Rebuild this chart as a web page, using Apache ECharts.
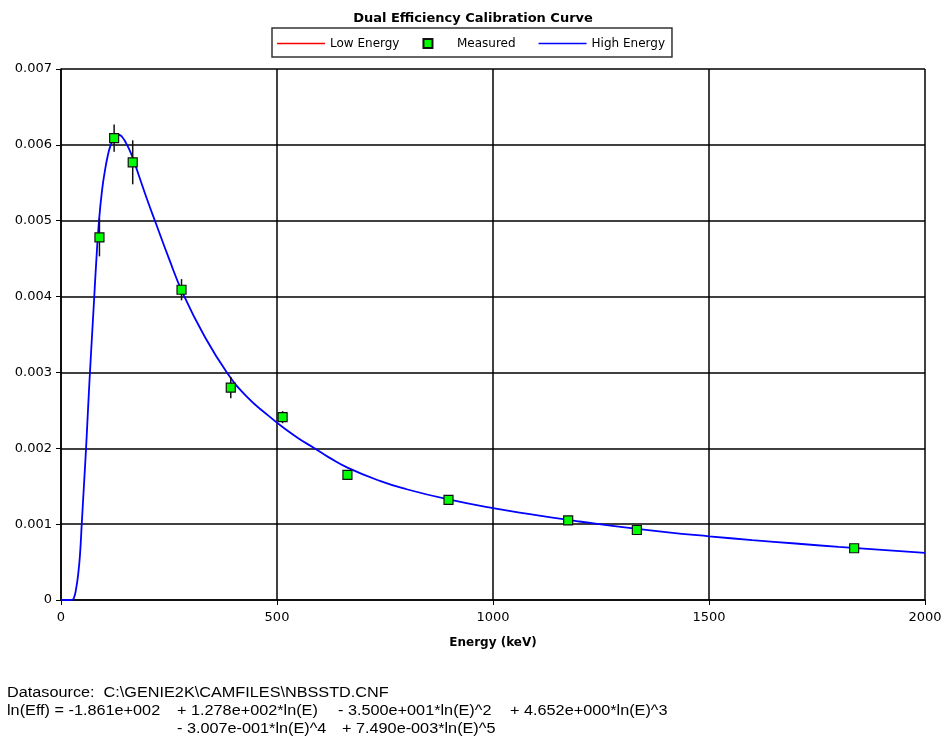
<!DOCTYPE html>
<html>
<head>
<meta charset="utf-8">
<script src="https://cdn.jsdelivr.net/npm/echarts@6/dist/echarts.min.js"></script>
<style>
html,body{margin:0;padding:0;background:#fff;}
#chart{width:946px;height:740px;}
</style>
</head>
<body>
<div id="chart"></div>
<script>
// Measured calibration points (keV, efficiency, 1-sigma error)
var measuredEnergy = [89, 123, 166, 279, 393, 513, 663, 897, 1174, 1333, 1836];
var measuredEff = [0.00478, 0.00609, 0.00577, 0.00409, 0.00280, 0.00241, 0.00165, 0.00132, 0.00105, 0.000923, 0.000682];
var measuredErr = [0.00025, 0.00018, 0.00029, 0.00014, 0.00014, 0.00008, 0.00006, 0.00004, 0.00003, 0.00003, 0.00002];

// High-energy fitted curve
var curveEnergy = [0, 25, 30, 35, 40, 44, 48, 53, 58, 62, 67, 72, 77, 82, 88, 95, 102, 108, 114, 121, 128, 135, 142, 150, 158, 166, 180, 200, 220, 250, 280, 330, 384, 430, 480, 513, 550, 584, 620, 663, 738, 800, 897, 1000, 1100, 1175, 1200, 1300, 1400, 1500, 1600, 1700, 1800, 1900, 2000];
var curveEff = [0, 0, 0.00003, 0.00015, 0.00035, 0.0006, 0.0010, 0.0015, 0.0020, 0.00245, 0.0030, 0.0035, 0.0040, 0.0045, 0.0050, 0.0054, 0.00567, 0.00585, 0.00598, 0.00607, 0.00612, 0.00613, 0.0061, 0.00603, 0.00594, 0.00583, 0.0056, 0.00527, 0.00496, 0.0045, 0.00407, 0.0035, 0.0030, 0.00268, 0.00243, 0.00228, 0.00213, 0.00201, 0.00188, 0.001745, 0.00157, 0.00146, 0.001325, 0.00121, 0.00112, 0.001055, 0.001035, 0.00096, 0.000895, 0.00084, 0.00079, 0.000745, 0.0007, 0.00066, 0.00062];

// Low-energy curve: no visible points in the picture
var lowEnergyCurve = [];

var xTicks = {min: 0, max: 2000, interval: 500};
var yTicks = {min: 0, max: 0.007, interval: 0.001};

var titleText = 'Dual Efficiency Calibration Curve';
var footerLines = [
  {x: 7, y: 693, text: 'Datasource:  C:\\GENIE2K\\CAMFILES\\NBSSTD.CNF'},
  {x: 7, y: 711, text: 'ln(Eff) = -1.861e+002'},
  {x: 177, y: 711, text: '+ 1.278e+002*ln(E)'},
  {x: 338, y: 711, text: '- 3.500e+001*ln(E)^2'},
  {x: 510, y: 711, text: '+ 4.652e+000*ln(E)^3'},
  {x: 177, y: 729, text: '- 3.007e-001*ln(E)^4'},
  {x: 342, y: 729, text: '+ 7.490e-003*ln(E)^5'}
];

var FONT = '"DejaVu Sans", "Liberation Sans", Arial, sans-serif';
var FOOTFONT = '"Liberation Sans", Arial, sans-serif';

var curveData = curveEnergy.map(function (e, i) { return [e, curveEff[i]]; });
var measuredData = measuredEnergy.map(function (e, i) { return [e, measuredEff[i]]; });
var errData = measuredEnergy.map(function (e, i) { return [e, measuredEff[i], measuredErr[i]]; });

var chart = echarts.init(document.getElementById('chart'), null, {renderer: 'canvas'});

var LINE_ICON = 'path://M0,0L48,0L48,1.6L0,1.6Z';

var option = {
  animation: false,
  backgroundColor: '#ffffff',
  title: {
    text: titleText,
    left: 'center',
    top: 7,
    textStyle: {fontFamily: FONT, fontSize: 13, fontWeight: 'bold', color: '#000'}
  },
  legend: {
    data: [
      {name: 'Low Energy', icon: LINE_ICON},
      {name: 'Measured', icon: 'path://M0,0L10,0L10,10L0,10Z'},
      {name: 'High Energy', icon: LINE_ICON}
    ],
    left: 272,
    top: 28,
    itemWidth: 48,
    itemHeight: 9,
    itemGap: 23,
    padding: [9, 7, 7, 5],
    borderColor: '#333',
    borderWidth: 1.5,
    borderRadius: 0,
    symbolKeepAspect: true,
    textStyle: {fontFamily: FONT, fontSize: 12, color: '#000', lineHeight: 13}
  },
  grid: {left: 61, top: 69, width: 864, height: 531, containLabel: false},
  xAxis: {
    type: 'value',
    min: xTicks.min, max: xTicks.max, interval: xTicks.interval,
    name: 'Energy (keV)',
    nameLocation: 'middle',
    nameGap: 37,
    nameTextStyle: {fontFamily: FONT, fontSize: 12, fontWeight: 'bold', color: '#000'},
    axisLine: {show: true, onZero: false, lineStyle: {color: '#000', width: 1.5}},
    axisTick: {show: true, length: 5, lineStyle: {color: '#000', width: 1}},
    splitLine: {show: true, lineStyle: {color: '#000', width: 1.5}},
    axisLabel: {
      fontFamily: FONT, fontSize: 13, color: '#000', margin: 11,
      formatter: function (v) { return String(v); }
    }
  },
  yAxis: {
    type: 'value',
    min: yTicks.min, max: yTicks.max, interval: yTicks.interval,
    axisLine: {show: true, onZero: false, lineStyle: {color: '#000', width: 1.5}},
    axisTick: {show: true, length: 5, lineStyle: {color: '#000', width: 1}},
    splitLine: {show: true, lineStyle: {color: '#000', width: 1.5}},
    axisLabel: {
      fontFamily: FONT, fontSize: 13, color: '#000', margin: 9,
      formatter: function (v) { return v === 0 ? '0' : v.toFixed(3); }
    }
  },
  series: [
    {
      name: 'Low Energy',
      type: 'line',
      data: lowEnergyCurve,
      symbol: 'none',
      lineStyle: {color: '#ff0000', width: 1.5},
      itemStyle: {color: '#ff0000'},
      z: 2
    },
    {
      name: 'High Energy',
      type: 'line',
      data: curveData,
      symbol: 'none',
      smooth: 0.5,
      lineStyle: {color: '#0000ff', width: 1.8},
      itemStyle: {color: '#0000ff'},
      z: 3
    },
    {
      name: 'errorbars',
      type: 'custom',
      data: errData,
      encode: {x: 0, y: 1},
      z: 4,
      renderItem: function (params, api) {
        var x = api.value(0), y = api.value(1), e = api.value(2);
        var top = api.coord([x, y + e]);
        var bot = api.coord([x, y - e]);
        return {
          type: 'line',
          shape: {x1: top[0], y1: top[1], x2: bot[0], y2: bot[1]},
          style: {stroke: '#111', lineWidth: 1.5}
        };
      }
    },
    {
      name: 'Measured',
      type: 'scatter',
      data: measuredData,
      symbol: 'rect',
      symbolSize: 9,
      itemStyle: {color: '#00ff00', borderColor: '#111', borderWidth: 1.2, opacity: 1},
      z: 5
    }
  ],
  graphic: footerLines.map(function (l) {
    return {
      type: 'text',
      x: l.x,
      y: l.y,
      scaleX: 1.16,
      style: {text: l.text, font: '14px ' + FOOTFONT, fill: '#000', verticalAlign: 'middle', align: 'left'}
    };
  })
};

chart.setOption(option);
</script>
</body>
</html>
